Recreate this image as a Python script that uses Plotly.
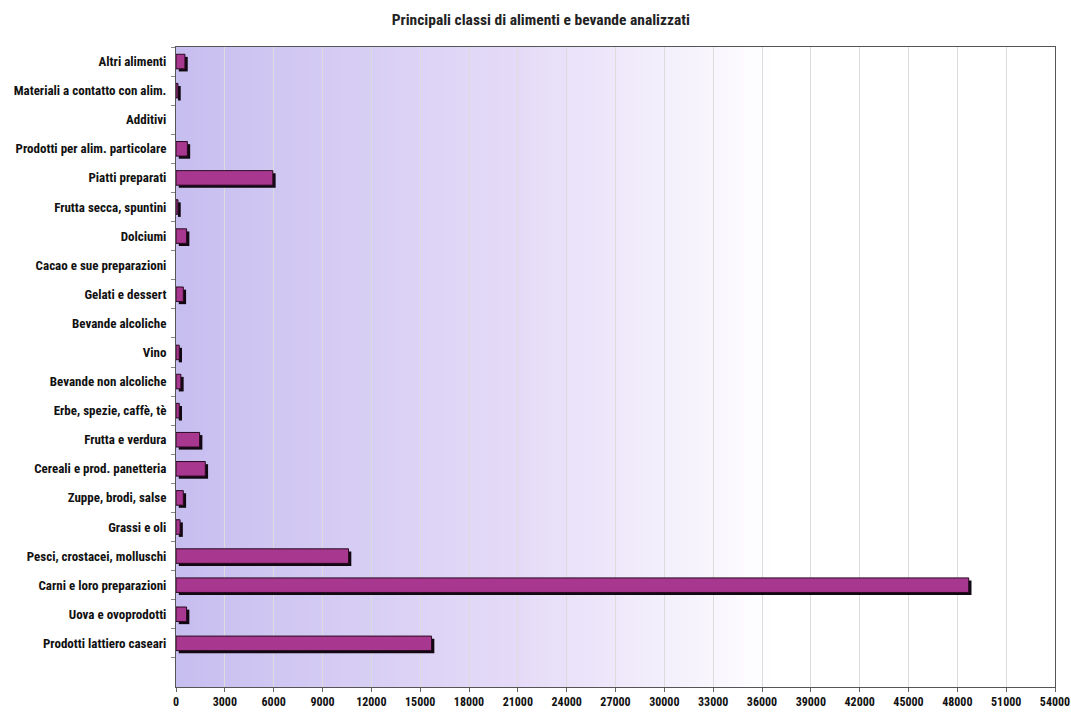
import plotly.graph_objects as go

# Food and beverage classes, listed from the bottom row to the top row
categories = [
    "Prodotti lattiero caseari",
    "Uova e ovoprodotti",
    "Carni e loro preparazioni",
    "Pesci, crostacei, molluschi",
    "Grassi e oli",
    "Zuppe, brodi, salse",
    "Cereali e prod. panetteria",
    "Frutta e verdura",
    "Erbe, spezie, caffè, tè",
    "Bevande non alcoliche",
    "Vino",
    "Bevande alcoliche",
    "Gelati e dessert",
    "Cacao e sue preparazioni",
    "Dolciumi",
    "Frutta secca, spuntini",
    "Piatti preparati",
    "Prodotti per alim. particolare",
    "Additivi",
    "Materiali a contatto con alim.",
    "Altri alimenti",
]

samples = [
    15700, 650, 48700, 10600, 250, 450, 1800, 1450, 200, 300, 200,
    0, 450, 0, 650, 120, 5950, 700, 0, 120, 550,
]

x_ticks = list(range(0, 54001, 3000))

FONT = "Liberation Sans Narrow, Arial Narrow, Roboto Condensed, sans-serif"
BAR_FILL = "#A8378F"
BAR_EDGE = "#2a0a22"

fig = go.Figure()

# drop shadow behind each bar
fig.add_trace(go.Bar(
    y=categories, x=samples, base=170, orientation="h",
    width=0.5, offset=-0.34,
    marker=dict(color="#120812", line=dict(width=0)),
    hoverinfo="skip", showlegend=False,
))

# the bars themselves
fig.add_trace(go.Bar(
    y=categories, x=samples, orientation="h",
    width=0.5, offset=-0.25,
    marker=dict(color=BAR_FILL,
                line=dict(color=BAR_EDGE, width=[0 if v == 0 else 1 for v in samples])),
    showlegend=False,
))

# lavender-to-white horizontal gradient for the plot background
left = (199, 190, 240)
mid = (230, 220, 248)
n = 240
shapes = []
for i in range(n):
    t = i / n
    if t < 0.4:
        u = t / 0.4
        c = tuple(left[k] + (mid[k] - left[k]) * u for k in range(3))
    elif t < 0.68:
        u = (t - 0.4) / 0.28
        c = tuple(mid[k] + (255 - mid[k]) * u for k in range(3))
    else:
        c = (255, 255, 255)
    col = "rgb(%d,%d,%d)" % tuple(int(round(v)) for v in c)
    shapes.append(dict(
        type="rect", xref="x domain", yref="y domain",
        x0=t, x1=min(1.0, (i + 1) / n + 0.004), y0=0, y1=1,
        fillcolor=col, line=dict(width=0), layer="below",
    ))

fig.update_layout(
    width=1071, height=717,
    margin=dict(l=176, r=16, t=47, b=30),
    paper_bgcolor="white", plot_bgcolor="white",
    barmode="overlay",
    shapes=shapes,
    title=dict(
        text="Principali classi di alimenti e bevande analizzati",
        x=0.505, xref="container", xanchor="center",
        y=0.98, yref="container", yanchor="top",
        font=dict(family=FONT, size=15.5, color="#222", weight="bold"),
    ),
    font=dict(family=FONT, size=13, color="#111"),
)

fig.update_xaxes(
    range=[0, 54000], tickvals=x_ticks, ticktext=[str(v) for v in x_ticks],
    showgrid=True, gridcolor="#dcdcdc", gridwidth=1,
    showline=True, linecolor="#555", linewidth=1, mirror=True,
    ticks="outside", ticklen=4, tickcolor="#666",
    tickfont=dict(family=FONT, size=12, color="#111", weight="bold"),
    zeroline=False, fixedrange=True, automargin=False,
)

fig.update_yaxes(
    type="category", categoryorder="array", categoryarray=categories,
    range=[-1.5, len(categories) - 0.5],
    tickson="boundaries", ticks="outside", ticklen=4, tickcolor="#888",
    showgrid=False, showline=True, linecolor="#555", linewidth=1, mirror=True,
    tickfont=dict(family=FONT, size=13, color="#111", weight="bold"),
    ticklabelstandoff=6, fixedrange=True, automargin=False,
)

fig.write_html("out.html")
